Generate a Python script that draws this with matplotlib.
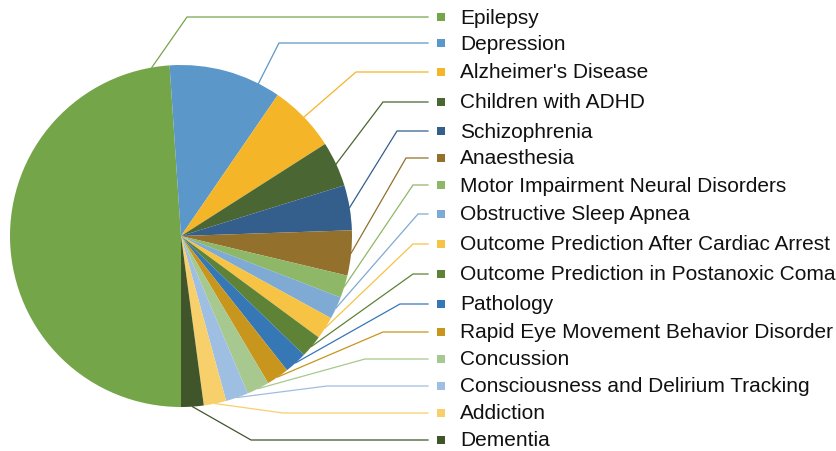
import numpy as np
import matplotlib.pyplot as plt

# --- data (count of studies per application) ---
categories = [
    "Epilepsy", "Depression", "Alzheimer's Disease", "Children with ADHD",
    "Schizophrenia", "Anaesthesia", "Motor Impairment Neural Disorders",
    "Obstructive Sleep Apnea", "Outcome Prediction After Cardiac Arrest",
    "Outcome Prediction in Postanoxic Coma", "Pathology",
    "Rapid Eye Movement Behavior Disorder", "Concussion",
    "Consciousness and Delirium Tracking", "Addiction", "Dementia",
]
counts = [23, 5, 3, 2, 2, 2, 1, 1, 1, 1, 1, 1, 1, 1, 1, 1]

colors = [
    "#75A549", "#5B97C9", "#F4B528", "#4A6632", "#345E8C", "#93702B",
    "#8FB768", "#7EAAD4", "#F6C344", "#5E8236", "#3677B6", "#C8951D",
    "#A7C98F", "#9FBFE2", "#F7D06B", "#41552A",
]

# --- layout (pixel coords, y measured from top) ---
W, H = 836, 452
cx, cy, R = 181, H - 237, 171
row_y = [18, 44, 73, 103, 132, 159, 186, 215, 245, 275, 305, 333, 360, 387, 414, 441]
elbow_x = [187, 279, 356, 383, 397, 406, 413, 418, 413, 413, 400, 383, 365, 327, 283, 251]
line_end_x = 428
marker_x = 441
text_x = 460

plt.rcParams["font.family"] = ["Liberation Sans", "DejaVu Sans"]

fig = plt.figure(figsize=(W / 100, H / 100), dpi=100)
ax = fig.add_axes([0, 0, 1, 1])

ax.pie(counts, colors=colors, startangle=-90, counterclock=False,
       center=(cx, cy), radius=R, wedgeprops=dict(linewidth=0))

# angles clockwise from 12 o'clock, first slice starts at 6 o'clock
vals = np.array(counts, dtype=float)
spans = vals / vals.sum() * 360.0
starts = 180.0 + np.concatenate([[0], np.cumsum(spans)[:-1]])
ends = starts + spans

for i, name in enumerate(categories):
    ey = H - row_y[i]
    ex = elbow_x[i]
    if spans[i] > 30:
        # big slice: attach toward the label, kept inside the slice
        a = np.degrees(np.arctan2(ex - cx, ey - cy)) % 360
        lo, hi = starts[i] + 6, ends[i] - 6
        cand = [a + k * 360 for k in (-1, 0, 1)]
        a = min(cand, key=lambda v: abs(np.clip(v, lo, hi) - v))
        a = np.clip(a, lo, hi)
    else:
        a = (starts[i] + ends[i]) / 2
    t = np.radians(a)
    sx, sy = cx + R * np.sin(t), cy + R * np.cos(t)
    ax.plot([sx, ex, line_end_x], [sy, ey, ey], color=colors[i], lw=0.9,
            solid_joinstyle="miter")
    ax.scatter([marker_x], [ey], marker="s", s=26, color=colors[i], linewidths=0)
    ax.text(text_x, ey, name, fontsize=15, color="#111111",
            va="center", ha="left")

ax.set_xlim(0, W)
ax.set_ylim(0, H)
ax.set_aspect("equal")
ax.axis("off")

fig.savefig("out.png", dpi=100, facecolor="white")
